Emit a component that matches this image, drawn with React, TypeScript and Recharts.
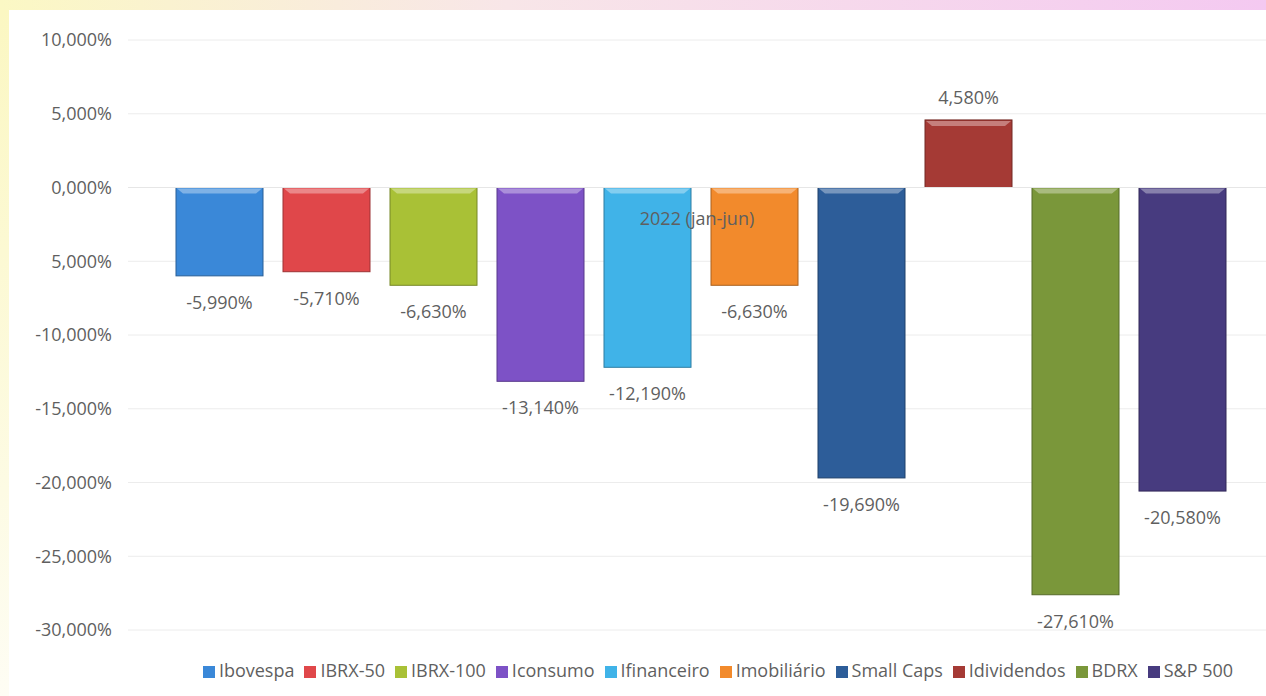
import { BarChart, Bar, XAxis, YAxis, CartesianGrid, Legend, LabelList, ReferenceLine } from "recharts";

// one category, ten series (jan-jun 2022 returns, %)
const categories = ["2022 (jan-jun)"];
const seriesNames = ["Ibovespa", "IBRX-50", "IBRX-100", "Iconsumo", "Ifinanceiro", "Imobiliário", "Small Caps", "Idividendos", "BDRX", "S&P 500"];
const seriesValues = [-5.99, -5.71, -6.63, -13.14, -12.19, -6.63, -19.69, 4.58, -27.61, -20.58];
const seriesColors = ["#3a88d8", "#e0474a", "#a9c136", "#7d52c6", "#40b3e8", "#f28a2c", "#2d5d99", "#a53a35", "#7a973a", "#473b7f"];
const yTicks = [10, 5, 0, -5, -10, -15, -20, -25, -30];
const yTickLabels = ["10,000%", "5,000%", "0,000%", "5,000%", "-10,000%", "-15,000%", "-20,000%", "-25,000%", "-30,000%"];

const data = categories.map((c) => {
  const row: any = { cat: c };
  seriesNames.forEach((n, i) => { row[n] = seriesValues[i]; });
  return row;
});

const FONT = "'Open Sans', sans-serif";
const TEXT = "#5f5f5f";

const fmtPct = (v: any) => `${Number(v).toFixed(3).replace(".", ",")}%`;

const shade = (hex: string, amt: number) => {
  const n = parseInt(hex.slice(1), 16);
  const ch = (s: number) => {
    const v = (n >> s) & 255;
    const r = amt > 0 ? v + (255 - v) * amt : v * (1 + amt);
    return Math.round(Math.max(0, Math.min(255, r)));
  };
  return `rgb(${ch(16)},${ch(8)},${ch(0)})`;
};

const BevelBar = (props: any) => {
  const { x, y, width, height, fill } = props;
  const top = Math.min(y, y + height);
  const h = Math.abs(height);
  const hl = Math.min(6, h / 3);
  return (
    <g>
      <rect x={x} y={top} width={width} height={h} fill={fill} stroke={shade(fill, -0.3)} strokeWidth={1} />
      <polygon
        points={`${x + 1},${top + 1} ${x + width - 1},${top + 1} ${x + width - 1 - hl},${top + hl} ${x + 1 + hl},${top + hl}`}
        fill={shade(fill, 0.35)}
      />
    </g>
  );
};

// excel-like "outside end" label: above positive bars, below negative ones
const ValueLabel = (props: any) => {
  const { x, y, width, height, value } = props;
  const top = Math.min(y, y + height);
  const bottom = Math.max(y, y + height);
  const ty = value < 0 ? bottom + 33 : top - 16;
  return (
    <text x={x + width / 2} y={ty} textAnchor="middle" fill={TEXT} fontSize={18} fontFamily={FONT}>
      {fmtPct(value)}
    </text>
  );
};

export default function App() {
  return (
    <div style={{ position: "absolute", left: 0, top: 0, width: 1266, height: 696, background: "linear-gradient(to right, #fbf8c4, #f8e6e8 40%, #f4c9f1)" }}>
      <div style={{ position: "absolute", left: 0, top: 10, width: 9, height: 686, background: "linear-gradient(to bottom, #fbf7c2, #fdfbe4 70%, #fefdf4)" }} />
      <div style={{ position: "absolute", left: 9, top: 10, width: 1257, height: 686, background: "#ffffff" }} />
      <div style={{ position: "absolute", left: 0, top: 0 }}>
        <BarChart width={1266} height={696} data={data} margin={{ top: 40, right: 0, bottom: 14, left: 0 }} barSize={87} barGap={20}>
          <CartesianGrid vertical={false} stroke="#ececec" />
          <XAxis dataKey="cat" hide padding={{ left: 7, right: 0 }} />
          <YAxis
            domain={[-30, 10]}
            ticks={yTicks}
            width={128}
            axisLine={false}
            tickLine={false}
            tickSize={0}
            tickMargin={16}
            tick={{ fill: TEXT, fontSize: 18, fontFamily: FONT }}
            tickFormatter={(v) => yTickLabels[yTicks.indexOf(v)] ?? ""}
          />
          {seriesNames.map((n, i) => (
            <Bar key={n} dataKey={n} name={n} fill={seriesColors[i]} shape={<BevelBar />} isAnimationActive={false}>
              <LabelList dataKey={n} content={<ValueLabel />} />
            </Bar>
          ))}
          <ReferenceLine
            y={0}
            stroke="#e6e6e6"
            label={{ value: categories[0], position: "bottom", offset: 25, fill: TEXT, fontSize: 18, fontFamily: FONT }}
          />
          <Legend
            verticalAlign="bottom"
            iconType="square"
            iconSize={12}
            itemSorter={(item: any) => seriesNames.indexOf(item.value)}
            wrapperStyle={{ paddingTop: 28, paddingLeft: 180, boxSizing: "border-box", fontFamily: FONT, fontSize: 18 }}
            formatter={(v) => <span style={{ color: TEXT }}>{v}</span>}
          />
        </BarChart>
      </div>
    </div>
  );
}
